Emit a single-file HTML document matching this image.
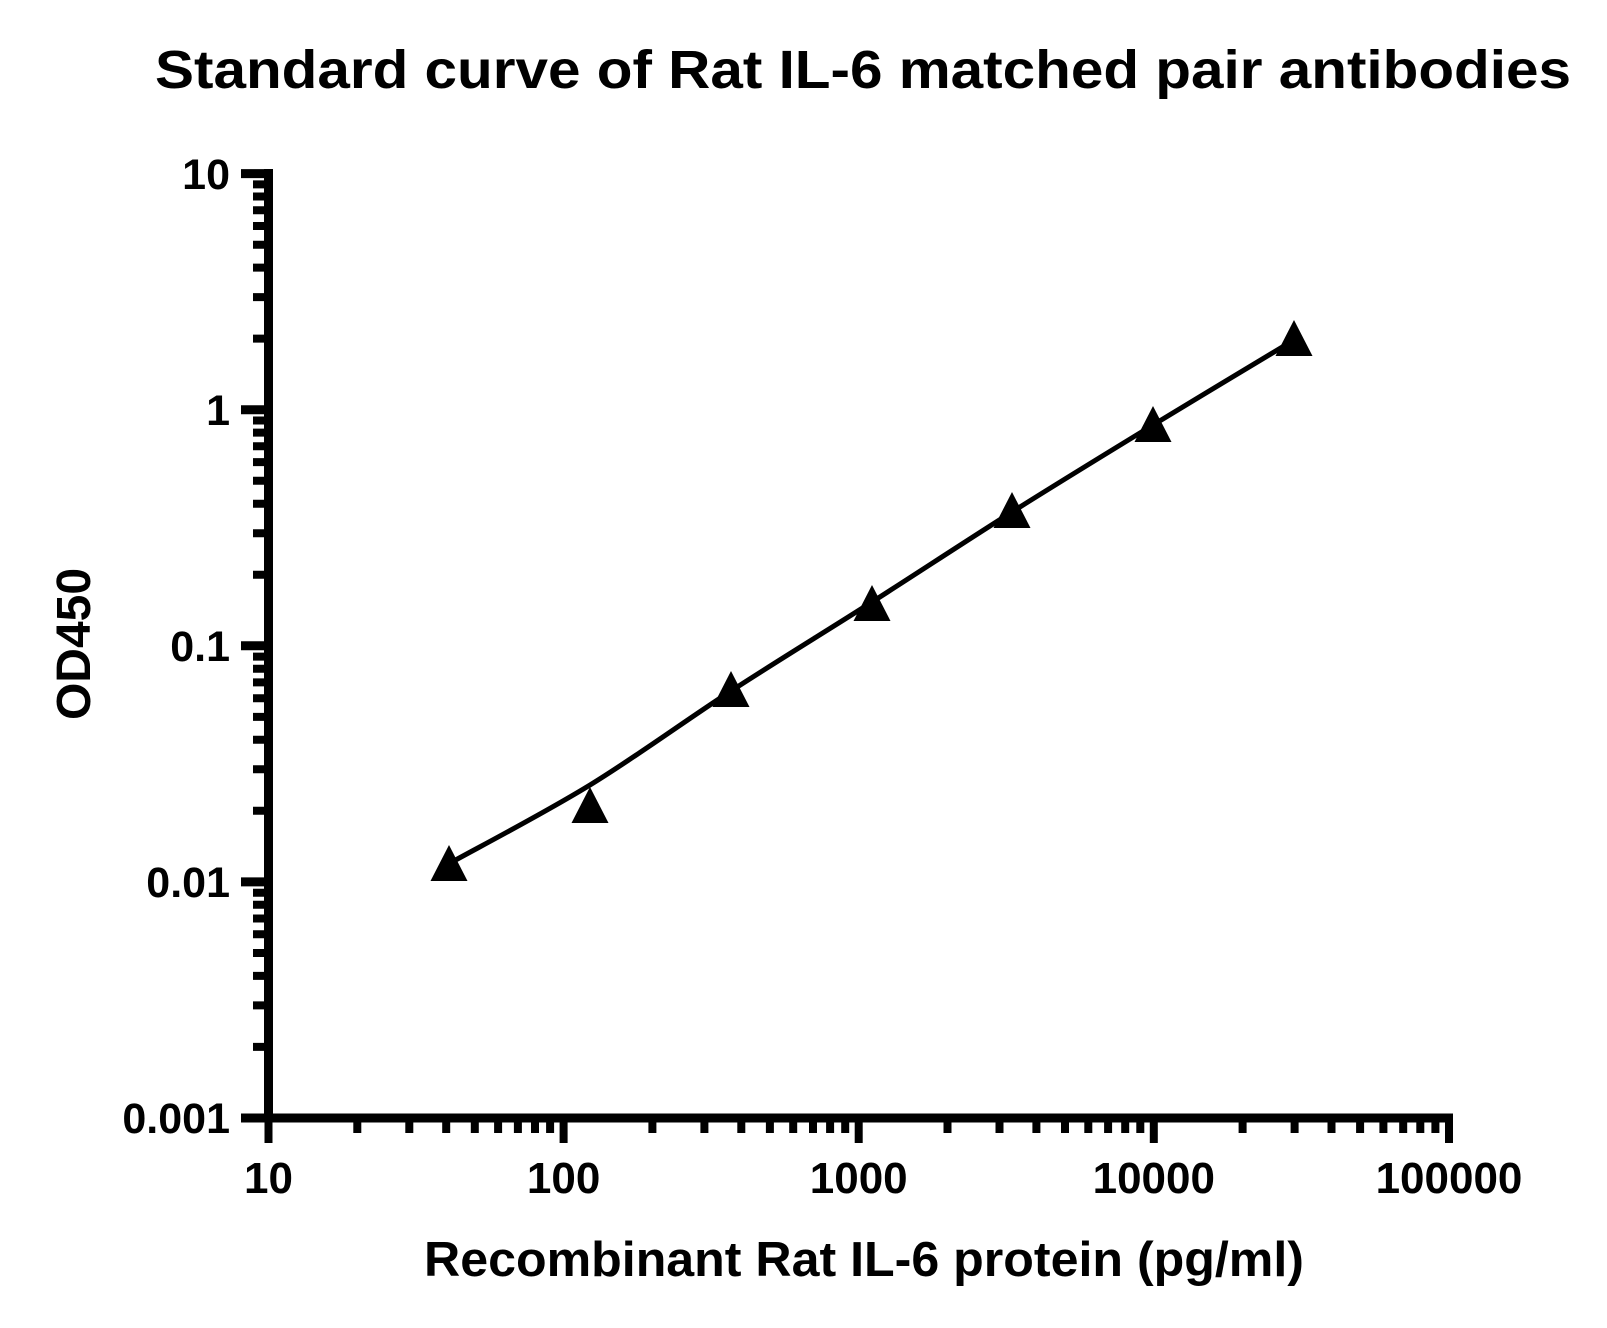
<!DOCTYPE html>
<html><head><meta charset="utf-8"><style>html,body{margin:0;padding:0;background:#fff}svg{display:block}</style></head>
<body>
<svg width="1607" height="1328" viewBox="0 0 1607 1328" xmlns="http://www.w3.org/2000/svg" font-family="Liberation Sans, Arial, sans-serif" font-weight="bold">
<text x="155" y="88" font-size="54" textLength="1416" lengthAdjust="spacingAndGlyphs">Standard curve of Rat IL-6 matched pair antibodies</text>
<g stroke="#000" fill="none">
<line x1="268.5" y1="169" x2="268.5" y2="1122" stroke-width="9"/>
<line x1="264" y1="1118" x2="1453" y2="1118" stroke-width="9"/>
<path stroke-width="9" d="M241 1118H273M241 881.9H273M241 645.8H273M241 409.7H273M241 173.6H273"/>
<path stroke-width="8" d="M268.5 1118V1143M563.6 1118V1143M858.7 1118V1143M1153.8 1118V1143M1449 1114V1143"/>
<path stroke-width="8" d="M357.3 1118V1133M409.3 1118V1133M446.2 1118V1133M474.8 1118V1133M498.1 1118V1133M517.9 1118V1133M535 1118V1133M550.1 1118V1133
M652.4 1118V1133M704.4 1118V1133M741.3 1118V1133M769.9 1118V1133M793.2 1118V1133M813 1118V1133M830.1 1118V1133M845.2 1118V1133
M947.5 1118V1133M999.5 1118V1133M1036.4 1118V1133M1065 1118V1133M1088.3 1118V1133M1108.1 1118V1133M1125.2 1118V1133M1140.3 1118V1133
M1242.6 1118V1133M1294.6 1118V1133M1331.5 1118V1133M1360.1 1118V1133M1383.4 1118V1133M1403.2 1118V1133M1420.3 1118V1133M1435.4 1118V1133"/>
<path stroke-width="8" d="M253 1046.9H268M253 1005.4H268M253 975.9H268M253 953H268M253 934.3H268M253 918.5H268M253 904.8H268M253 892.7H268
M253 810.8H268M253 769.3H268M253 739.8H268M253 716.9H268M253 698.2H268M253 682.4H268M253 668.7H268M253 656.6H268
M253 574.7H268M253 533.2H268M253 503.7H268M253 480.8H268M253 462.1H268M253 446.3H268M253 432.6H268M253 420.5H268
M253 338.6H268M253 297.1H268M253 267.6H268M253 244.7H268M253 226H268M253 210.2H268M253 196.5H268M253 184.4H268"/>
<path stroke-width="5" stroke-linejoin="round" stroke-linecap="round" d="M452 862 C475 849.2,543.5 813.5,590 785 C636.5 756.5,684 721.5,731 691 C778 660.5,825.2 631.8,872 602 C918.8 572.2,965.2 541.5,1012 512 C1058.8 482.5,1106 453.7,1153 425 C1200 396.3,1270.5 354.2,1294 340"/>
</g>
<g fill="#000">
<path d="M449 845L467.5 881L430.5 881Z"/>
<path d="M590 787L608.5 823L571.5 823Z"/>
<path d="M731 671L749.5 707L712.5 707Z"/>
<path d="M872 585L890.5 621L853.5 621Z"/>
<path d="M1012 492L1030.5 528L993.5 528Z"/>
<path d="M1153 406L1171.5 442L1134.5 442Z"/>
<path d="M1294 320L1312.5 356L1275.5 356Z"/>
</g>
<g font-size="43" text-anchor="end">
<text x="230" y="1133">0.001</text>
<text x="230" y="897">0.01</text>
<text x="230" y="661">0.1</text>
<text x="230" y="425">1</text>
<text x="230" y="189">10</text>
</g>
<g font-size="44" text-anchor="middle">
<text x="268.5" y="1193">10</text>
<text x="563.6" y="1193">100</text>
<text x="858.7" y="1193">1000</text>
<text x="1153.8" y="1193">10000</text>
<text x="1449" y="1193">100000</text>
</g>
<text x="864" y="1276" font-size="49" text-anchor="middle" textLength="880" lengthAdjust="spacingAndGlyphs">Recombinant Rat IL-6 protein (pg/ml)</text>
<text transform="translate(90,644) rotate(-90)" font-size="48" text-anchor="middle">OD450</text>
</svg>
</body></html>
